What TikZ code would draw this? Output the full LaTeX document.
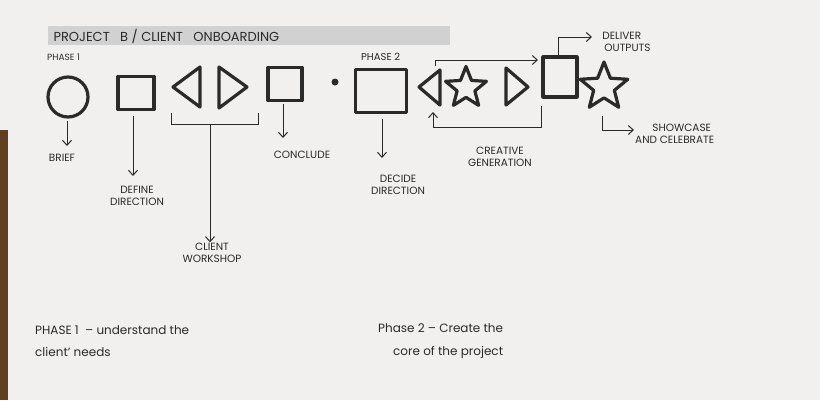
\documentclass[tikz,border=0pt]{standalone}
\usepackage{fontspec}
\setmainfont{Poppins}
\usetikzlibrary{shapes.geometric,arrows.meta}
\definecolor{paper}{HTML}{F1F0EE}
\definecolor{ink}{HTML}{2A2A2A}
\tikzset{
  shp/.style={draw=ink,line width=3.2pt,line join=round,inner sep=0pt},
  conn/.style={draw=ink,line width=1pt,-{Straight Barb[length=5pt,width=9pt]}},
  lbl/.style={text=ink,font=\fontsize{10.5}{11.5}\selectfont,align=center,inner sep=1pt},
  note/.style={text=ink,font=\fontsize{12}{13}\selectfont,align=left,anchor=west,inner sep=0pt}
}
\begin{document}
\begin{tikzpicture}[x=1pt,y=-1pt]
\fill[paper] (0,0) rectangle (820,400);
\useasboundingbox (0,0) rectangle (820,400);
\fill[black!50!brown] (0,130) rectangle (8,400);
% title
\fill[black!18] (48,26) rectangle (450,45);
\node[text=ink,font=\fontsize{13}{14}\selectfont,anchor=west] (title) at (50,36) {PROJECT\ \ \ B / CLIENT\ \ \ ONBOARDING};
\node[lbl,font=\fontsize{9}{10}\selectfont,anchor=west] (ph1) at (46,57) {PHASE 1};
\node[lbl,font=\fontsize{10}{11}\selectfont,anchor=west] (ph2) at (360,57) {PHASE 2};
% phase 1 shapes
\node[shp,circle,minimum size=40pt] (brief) at (68,97) {};
\node[shp,rectangle,minimum width=36pt,minimum height=33pt] (define) at (136,93) {};
\draw[shp] (173,87) -- (200,67) -- (200,107) -- cycle;
\draw[shp] (219,67) -- (247,87) -- (219,108) -- cycle;
\node[shp,rectangle,minimum width=34pt,minimum height=33pt] (conclude) at (285,84) {};
\fill[ink] (335,82) circle (3.5pt);
% phase 2 shapes
\node[shp,rectangle,minimum width=51pt,minimum height=43pt] (decide) at (381,91) {};
\draw[shp] (419,87) -- (440,70) -- (440,105) -- cycle;
\node[shp,star,star points=5,star point ratio=2.3,minimum size=43pt] (star1) at (466,88) {};
\draw[shp] (506,68) -- (528,87) -- (506,105) -- cycle;
\node[shp,rectangle,minimum width=34pt,minimum height=40pt] (deliver) at (560,77) {};
\node[shp,star,star points=5,star point ratio=2.3,minimum size=50pt] (star2) at (604,87) {};
% coordinates
\coordinate (btop) at (435,66);
\coordinate (bright) at (538,60);
\coordinate (rstart) at (541,106);
\coordinate (rleft) at (433,127);
\coordinate (bbot) at (433,112);
\coordinate (brk) at (210,124);
\coordinate (dtop) at (558,55);
\coordinate (stop) at (602,116);
% labels
\node[lbl] (tbrief) at (62,158) {BRIEF};
\node[lbl] (tdefine) at (137,196) {DEFINE\\DIRECTION};
\node[lbl] (tclient) at (212,253) {CLIENT\\WORKSHOP};
\node[lbl] (tconclude) at (302,155) {CONCLUDE};
\node[lbl] (tdecide) at (398,185) {DECIDE\\DIRECTION};
\node[lbl] (tcreative) at (500,157) {CREATIVE\\GENERATION};
\node[lbl,anchor=west] (tdeliver) at (592,42) {DELIVER\\\ \ \ \ OUTPUTS};
\node[lbl,anchor=west] (tshow) at (634,134) {\ \ \ \ \ SHOWCASE\\AND CELEBRATE};
% connectors
\draw[conn] (67,121) -- (67,146);
\draw[conn] (133,116) -- (133,176);
\draw[draw=ink,line width=1pt] (171,113) -- (171,124) -- (258,124) -- (258,113);
\draw[conn] (brk) -- (tclient.north -| brk);
\draw[conn] (283,104) -- (283,138);
\draw[conn] (382,119) -- (382,158);
\draw[conn] (btop) |- (bright);
\draw[conn] (rstart) |- (rleft) -- (bbot);
\draw[conn] (dtop) |- ([yshift=5pt]tdeliver.west);
\draw[conn] (stop) |- ([yshift=4pt]tshow.west);
% notes
\node[note] (n1) at (35,330) {PHASE 1 \ – understand the};
\node[note] (n1b) at (35,352) {client' needs};
\node[note] (n2) at (378,328) {Phase 2 – Create the};
\node[note] (n2b) at (393,352) {core of the project};
\end{tikzpicture}
\end{document}
